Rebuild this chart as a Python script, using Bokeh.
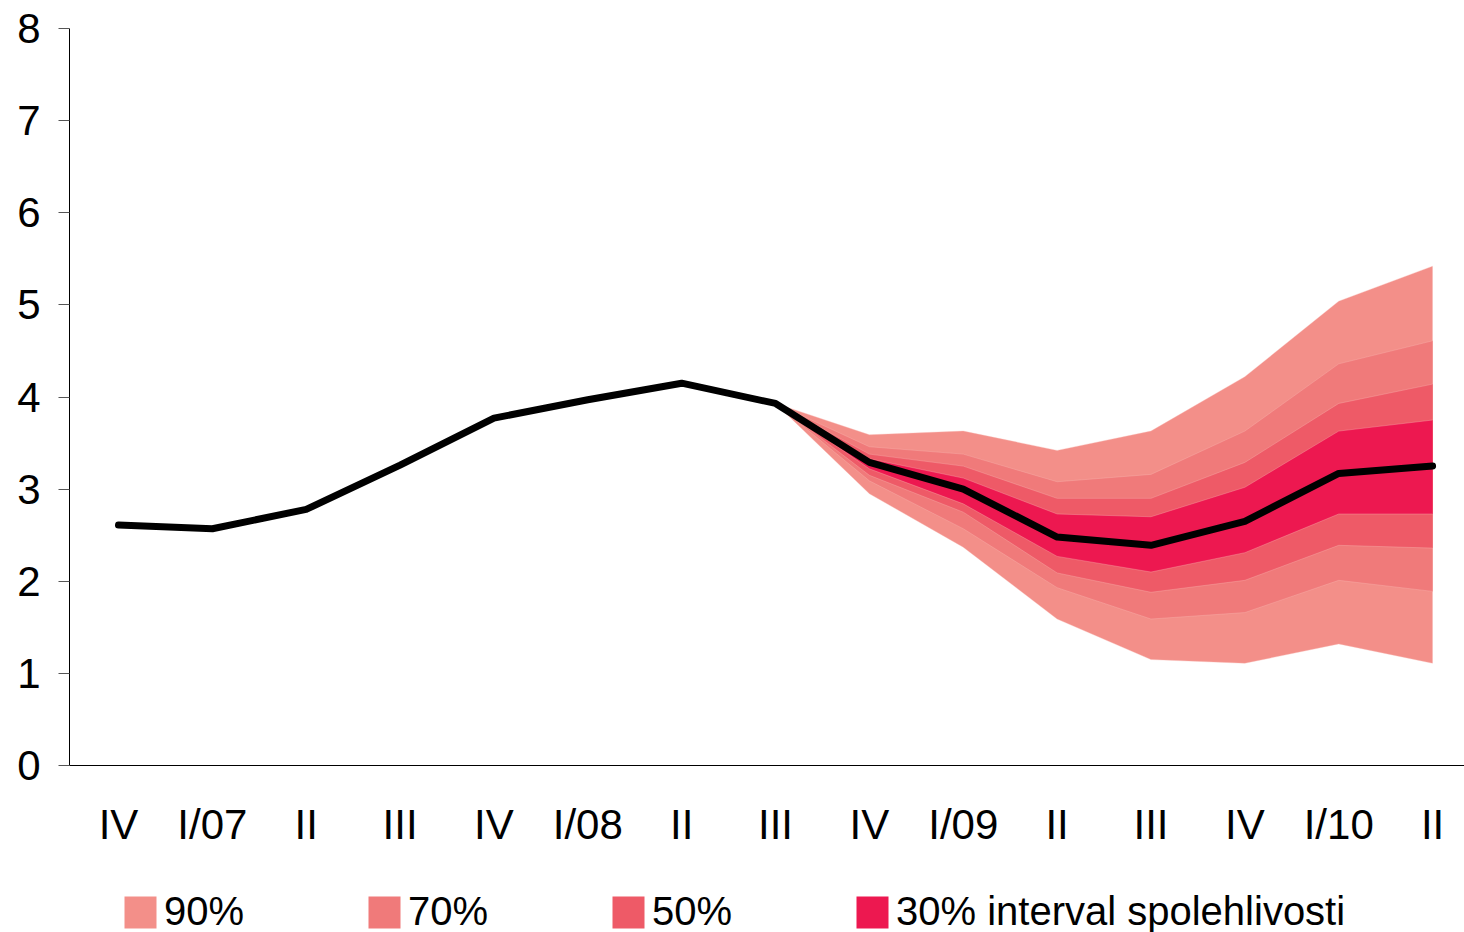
from bokeh.plotting import figure
from bokeh.layouts import column
from bokeh.models import Range1d, FixedTicker, Legend, LegendItem
from bokeh.embed import file_html
from bokeh.resources import INLINE

labels = ["IV", "I/07", "II", "III", "IV", "I/08", "II", "III", "IV", "I/09", "II", "III", "IV", "I/10", "II"]
center = [2.61, 2.57, 2.78, 3.26, 3.77, 3.97, 4.15, 3.93, 3.29, 3.00, 2.48, 2.39, 2.65, 3.17, 3.25]

# fan (from index 7 onward)
fan_x = [7, 8, 9, 10, 11, 12, 13, 14]
u90 = [3.93, 3.59, 3.63, 3.42, 3.63, 4.22, 5.04, 5.42]
u70 = [3.93, 3.46, 3.38, 3.08, 3.16, 3.63, 4.36, 4.61]
u50 = [3.93, 3.38, 3.25, 2.90, 2.90, 3.29, 3.93, 4.14]
u30 = [3.93, 3.33, 3.12, 2.73, 2.70, 3.02, 3.63, 3.75]
l30 = [3.93, 3.22, 2.84, 2.27, 2.10, 2.31, 2.73, 2.73]
l50 = [3.93, 3.15, 2.75, 2.09, 1.88, 2.01, 2.39, 2.36]
l70 = [3.93, 3.09, 2.57, 1.93, 1.59, 1.66, 2.01, 1.89]
l90 = [3.93, 2.95, 2.37, 1.59, 1.15, 1.11, 1.32, 1.11]

legend_labels = ["90%", "70%", "50%", "30% interval spolehlivosti"]
colors = ["#F38F89", "#F07A7A", "#EE5A67", "#ED1850"]

FONT = "'Liberation Sans', Arial"

p = figure(width=1464, height=872, output_backend="svg", toolbar_location=None,
           x_range=Range1d(-0.522, 14.34), y_range=Range1d(0, 8),
           min_border_left=69, min_border_right=0, min_border_top=28, min_border_bottom=107)
p.outline_line_color = None
p.grid.visible = False
p.background_fill_color = "white"

bands = [(l90, u90), (l70, u70), (l50, u50), (l30, u30)]
for (lo, hi), c in zip(bands, colors):
    p.varea(x=fan_x, y1=lo, y2=hi, fill_color=c)
    p.line(fan_x, hi, line_color="#F8B8B4", line_width=0.6, line_alpha=0.6)
    p.line(fan_x, lo, line_color="#F8B8B4", line_width=0.6, line_alpha=0.6)

p.line(list(range(len(center))), center, line_color="black", line_width=7,
       line_cap="round", line_join="round")

# axes
p.yaxis.ticker = FixedTicker(ticks=list(range(0, 9)))
p.yaxis.major_tick_out = 11
p.yaxis.major_tick_in = 0
p.yaxis.minor_tick_line_color = None
p.yaxis.axis_line_color = "black"
p.yaxis.major_tick_line_color = "#555555"
p.yaxis.major_label_text_font = FONT
p.yaxis.major_label_text_font_size = "42px"
p.yaxis.major_label_standoff = 18
p.yaxis.major_label_text_color = "black"

p.xaxis.ticker = FixedTicker(ticks=list(range(len(labels))))
p.xaxis.major_label_overrides = {i: l for i, l in enumerate(labels)}
p.xaxis.major_tick_out = 0
p.xaxis.major_tick_in = 0
p.xaxis.minor_tick_line_color = None
p.xaxis.axis_line_color = "black"
p.xaxis.major_label_text_font = FONT
p.xaxis.major_label_text_font_size = "42px"
p.xaxis.major_label_standoff = 35
p.xaxis.major_label_text_color = "black"

# legend strip
p2 = figure(width=1464, height=60, output_backend="svg", toolbar_location=None,
            x_axis_type=None, y_axis_type=None, x_range=Range1d(0, 1), y_range=Range1d(0, 1),
            min_border_left=0, min_border_right=0, min_border_top=0, min_border_bottom=0)
p2.outline_line_color = None
p2.grid.visible = False
dummies = [p2.rect(x=[-5], y=[-5], width=1, height=1, fill_color=c, line_color=None)
           for c in colors]
items = [LegendItem(label=l, renderers=[r]) for l, r in zip(legend_labels, dummies)]
legend = Legend(items=items, orientation="horizontal", location=(51, -2),
                glyph_width=40, glyph_height=40, label_standoff=4, label_width=200,
                spacing=0, padding=0, margin=0, border_line_color=None,
                background_fill_alpha=0, label_text_font=FONT,
                label_text_font_size="40px", label_text_color="black")
p2.add_layout(legend, "center")

layout = column(p, p2, spacing=0)
open("out.html", "w").write(file_html(layout, INLINE))
